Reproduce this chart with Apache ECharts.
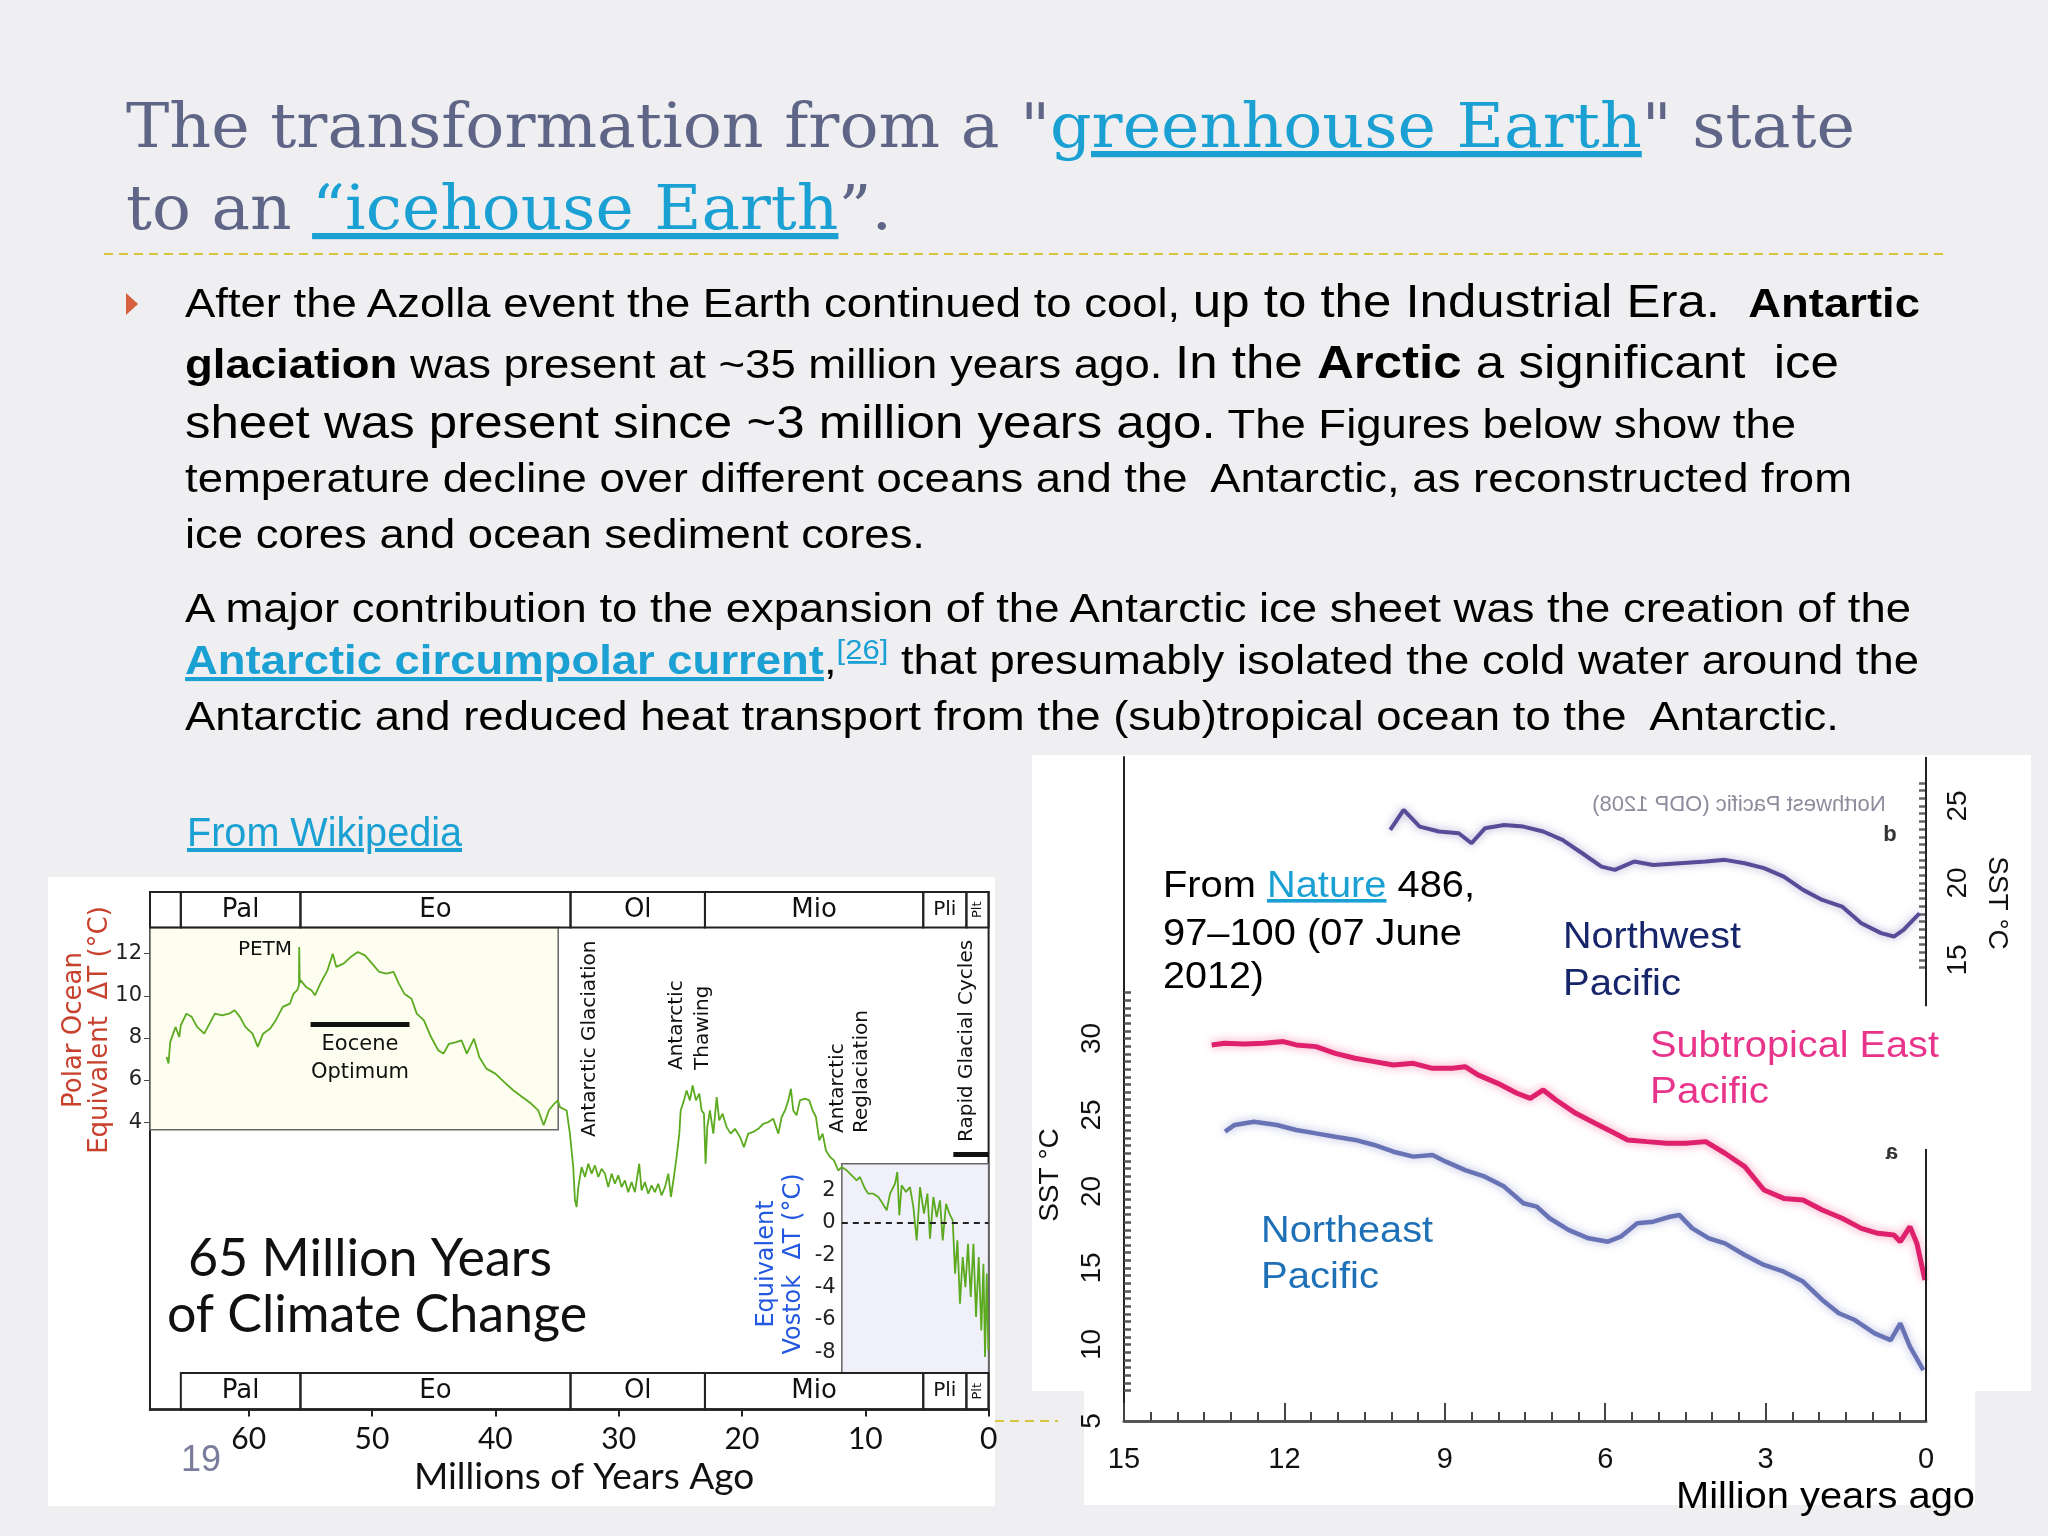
<!DOCTYPE html>
<html>
<head>
<meta charset="utf-8">
<title>Greenhouse to icehouse Earth</title>
<script src="https://cdn.jsdelivr.net/npm/echarts@6/dist/echarts.min.js"></script>
<style>
html, body { margin: 0; padding: 0; background: #efeff1; }
#chart { position: absolute; left: 0; top: 0; width: 2048px; height: 1536px; }
#slide { position: absolute; left: 0; top: 0; pointer-events: none; }
#slide text { font-family: 'Liberation Sans', Arial, sans-serif; white-space: pre; fill: #000; }
#slide .title { font-family: 'DejaVu Serif', serif; font-size: 62px; fill: #5f6586; }
#slide .body { font-size: 41px; }
#slide .big { font-size: 46px; }
#slide .b { font-weight: bold; }
#slide .link { fill: #1ba0d3; text-decoration: underline; }
</style>
</head>
<body>
<div id="chart"></div>
<svg id="slide" width="2048" height="1536" xml:space="preserve">
  <line x1="104" y1="254" x2="1946" y2="254" stroke="#d8c73e" stroke-width="2" stroke-dasharray="9 6"/>
  <line x1="995" y1="1421" x2="1058" y2="1421" stroke="#d8c73e" stroke-width="2" stroke-dasharray="9 6"/>
  <text class="title" x="126" y="147" textLength="1729" lengthAdjust="spacingAndGlyphs">The transformation from a "<tspan class="link">greenhouse Earth</tspan>" state</text>
  <text class="title" x="126" y="229" textLength="766" lengthAdjust="spacingAndGlyphs">to an <tspan class="link">“icehouse Earth</tspan>”.</text>
  <polygon points="126,293 126,315 138,304" fill="#d65f3c"/>
  <text class="body" x="185" y="317" textLength="1735" lengthAdjust="spacingAndGlyphs">After the Azolla event the Earth continued to cool, <tspan class="big">up to the Industrial Era.  </tspan><tspan class="b">Antartic</tspan></text>
  <text class="body" x="185" y="378" textLength="1654" lengthAdjust="spacingAndGlyphs"><tspan class="b">glaciation</tspan> was present at ~35 million years ago. <tspan class="big">In the <tspan class="b">Arctic</tspan> a significant  ice</tspan></text>
  <text class="body" x="185" y="438" textLength="1611" lengthAdjust="spacingAndGlyphs"><tspan class="big">sheet was present since ~3 million years ago.</tspan> The Figures below show the</text>
  <text class="body" x="185" y="492" textLength="1667" lengthAdjust="spacingAndGlyphs">temperature decline over different oceans and the  Antarctic, as reconstructed from</text>
  <text class="body" x="185" y="548" textLength="740" lengthAdjust="spacingAndGlyphs">ice cores and ocean sediment cores.</text>
  <text class="body" x="185" y="622" textLength="1726" lengthAdjust="spacingAndGlyphs">A major contribution to the expansion of the Antarctic ice sheet was the creation of the</text>
  <text class="body" x="185" y="674" textLength="1734" lengthAdjust="spacingAndGlyphs"><tspan class="link b">Antarctic circumpolar current</tspan>,<tspan class="link" font-size="28" dy="-15">[26]</tspan><tspan dy="15"> that presumably isolated the cold water around the</tspan></text>
  <text class="body" x="185" y="730" textLength="1654" lengthAdjust="spacingAndGlyphs">Antarctic and reduced heat transport from the (sub)tropical ocean to the  Antarctic.</text>
  <text class="link" x="187" y="846" font-size="40" textLength="275" lengthAdjust="spacingAndGlyphs">From Wikipedia</text>
  <text x="181" y="1471" font-size="36" style="fill:#7a7e9c">19</text>
  <text x="1163" y="897" font-size="36" textLength="312" lengthAdjust="spacingAndGlyphs">From <tspan class="link">Nature</tspan> 486,</text>
  <text x="1163" y="945" font-size="36" textLength="299" lengthAdjust="spacingAndGlyphs">97–100 (07 June</text>
  <text x="1163" y="988" font-size="36" textLength="101" lengthAdjust="spacingAndGlyphs">2012)</text>
  <text x="1563" y="948" font-size="36" textLength="178" lengthAdjust="spacingAndGlyphs" style="fill:#17266b">Northwest</text>
  <text x="1563" y="995" font-size="36" textLength="118" lengthAdjust="spacingAndGlyphs" style="fill:#17266b">Pacific</text>
  <text x="1650" y="1057" font-size="36" textLength="289" lengthAdjust="spacingAndGlyphs" style="fill:#e8358b">Subtropical East</text>
  <text x="1650" y="1103" font-size="36" textLength="119" lengthAdjust="spacingAndGlyphs" style="fill:#e8358b">Pacific</text>
  <text x="1261" y="1242" font-size="36" textLength="172" lengthAdjust="spacingAndGlyphs" style="fill:#1e70b7">Northeast</text>
  <text x="1261" y="1288" font-size="36" textLength="118" lengthAdjust="spacingAndGlyphs" style="fill:#1e70b7">Pacific</text>
  <text x="1676" y="1508" font-size="36" textLength="299" lengthAdjust="spacingAndGlyphs">Million years ago</text>
</svg>
<script>
// 65 Myr climate record: age (Ma) and polar ocean equivalent dT (degC)
const climateAge = [66.65, 66.5, 66.36, 65.93, 65.63, 65.5, 65.05, 64.62, 64.18, 63.6,
  63.17, 62.74, 62.16, 61.58, 61.14, 60.71, 60.27, 59.69, 59.26, 58.83,
  58.25, 57.81, 57.23, 56.65, 56.36, 56.07, 55.92, 55.9, 55.86, 55.78,
  55.35, 54.91, 54.62, 54.19, 53.61, 53.18, 52.89, 52.31, 51.73, 51.15,
  50.57, 49.99, 49.41, 48.83, 48.25, 47.82, 47.38, 46.8, 46.37, 45.79,
  45.21, 44.63, 44.2, 43.76, 43.18, 42.74, 42.31, 41.73, 41.3, 40.72,
  40.0, 39.27, 38.55, 37.82, 37.1, 36.52, 36.08, 35.65, 35.21, 34.93,
  34.76, 34.22, 33.95, 33.68, 33.54, 33.41, 33.27, 33.0, 32.73, 32.46,
  32.19, 31.92, 31.65, 31.38, 31.11, 30.84, 30.57, 30.3, 30.03, 29.76,
  29.49, 29.22, 28.95, 28.68, 28.33, 28.14, 27.87, 27.6, 27.33, 27.06,
  26.79, 26.52, 26.24, 25.97, 25.76, 25.52, 25.3, 25.08, 24.97, 24.7,
  24.49, 24.22, 24.0, 23.73, 23.46, 23.27, 23.08, 22.95, 22.81, 22.6,
  22.32, 22.05, 21.84, 21.57, 21.24, 20.92, 20.57, 20.16, 19.84, 19.49,
  19.08, 18.67, 18.27, 17.86, 17.46, 17.05, 16.78, 16.51, 16.24, 16.03,
  15.84, 15.57, 15.3, 14.89, 14.54, 14.27, 14.0, 13.73, 13.46, 13.19,
  12.86, 12.54, 12.19,
  11.91, 11.51, 11.1, 10.7, 10.43, 10.02, 9.75, 9.35, 8.94, 8.67,
  8.26, 7.99, 7.59, 7.4, 7.24, 7.05, 6.7, 6.37, 6.1, 5.83,
  5.56, 5.24, 4.96, 4.75, 4.48, 4.21, 3.94, 3.72, 3.45, 3.18,
  2.91, 2.72, 2.53, 2.32, 2.1, 1.88, 1.67, 1.45, 1.23, 1.02,
  0.8, 0.59, 0.42, 0.29, 0.15, 0.02];
const climateTemp = [7.09, 6.78, 7.8, 8.52, 8.04, 8.6, 9.15, 9.0, 8.52, 8.2,
  8.68, 9.15, 9.07, 9.15, 9.31, 9.0, 8.52, 8.2, 7.57, 8.2,
  8.44, 8.83, 9.47, 9.63, 10.1, 10.26, 10.5, 12.32, 10.6, 10.73,
  10.42, 10.26, 10.02, 10.58, 11.21, 12.0, 11.37, 11.53, 11.84, 12.08,
  11.92, 11.53, 11.13, 11.05, 11.13, 10.58, 10.1, 9.86, 9.15, 8.83,
  8.04, 7.41, 7.25, 7.72, 7.8, 7.88, 7.25, 7.96, 7.09, 6.54,
  6.3, 5.9, 5.51, 5.19, 4.88, 4.56, 3.85, 4.56, 4.88, 5.03,
  4.71, 4.55, 3.45, 1.86, 0.28, -0.04, 0.91, 1.86, 1.39, 2.02,
  1.55, 1.94, 1.39, 1.78, 1.55, 0.91, 1.55, 1.07, 1.47, 0.91,
  1.23, 0.67, 1.15, 0.67, 2.02, 0.75, 1.15, 0.6, 0.99, 0.67,
  1.07, 0.52, 0.91, 1.55, 0.44, 1.39, 2.34, 3.45, 4.55, 5.03,
  5.5, 5.03, 5.74, 5.03, 5.35, 4.55, 4.4, 2.02, 3.76, 4.55,
  3.45, 5.19, 4.08, 4.4, 3.76, 3.45, 3.68, 3.29, 2.81, 3.45,
  3.53, 3.68, 3.92, 4.0, 4.16, 3.45, 4.24, 4.55, 5.03, 5.58,
  4.55, 4.32, 5.03, 5.11, 5.03, 4.55, 4.24, 3.13, 3.45, 2.65,
  2.34, 2.18, 1.7,
  1.86, 1.71, 1.47, 1.23, 1.39, 0.83, 0.6, 0.6, 0.44, 0.2,
  -0.19, 0.6, 1.07, 1.63, -0.43, 1.0, 0.68, 0.91, -0.04, -1.62,
  0.91, -0.35, 0.6, -1.54, 0.44, -0.51, 0.28, -1.62, 0.12, -0.35,
  -0.67, -3.2, -1.62, -4.63, -2.41, -3.84, -1.78, -4.31, -1.78, -5.26,
  -2.41, -5.9, -2.73, -7.16, -3.2, -6.85];

// geological epochs (Ma)
const epochNames = ['Pal', 'Eo', 'Ol', 'Mio', 'Pli', 'Plt'];
const epochStart = [65.5, 55.8, 33.9, 23.0, 5.3, 1.8];
const epochEnd = [55.8, 33.9, 23.0, 5.3, 1.8, 0];

const ageTicks = [60, 50, 40, 30, 20, 10, 0];
const polarTicks = [4, 6, 8, 10, 12];
const vostokTicks = [-8, -6, -4, -2, 0, 2];

// Nature 486 SST records: age (Ma), SST (degC)
const subtropicalAge = [13.36, 13.12, 12.75, 12.39, 12.02, 11.78, 11.41, 11.05, 10.68, 10.32,
  9.96, 9.59, 9.23, 8.86, 8.62, 8.38, 8.01, 7.65, 7.4, 7.16,
  6.92, 6.55, 6.19, 5.82, 5.58, 5.22, 4.85, 4.49, 4.12, 3.76,
  3.39, 3.03, 2.66, 2.3, 1.94, 1.57, 1.21, 0.9, 0.6, 0.48,
  0.3, 0.17, 0.02];
const subtropicalSst = [29.58, 29.69, 29.64, 29.69, 29.8, 29.58, 29.47, 29.03, 28.71, 28.49,
  28.27, 28.38, 28.05, 28.05, 28.16, 27.62, 27.07, 26.42, 26.09, 26.64,
  25.98, 25.11, 24.46, 23.81, 23.37, 23.26, 23.15, 23.15, 23.26, 22.5,
  21.63, 20.1, 19.55, 19.45, 18.79, 18.25, 17.59, 17.27, 17.16, 16.72,
  17.7, 16.61, 14.22];
const northeastAge = [13.11, 12.93, 12.57, 12.14, 11.78, 11.41, 11.05, 10.68, 10.32, 9.96,
  9.59, 9.23, 8.98, 8.62, 8.25, 7.89, 7.53, 7.28, 7.04, 6.68,
  6.31, 5.95, 5.71, 5.4, 5.1, 4.79, 4.61, 4.37, 4.06, 3.76,
  3.39, 3.03, 2.66, 2.3, 1.94, 1.63, 1.33, 0.96, 0.66, 0.48,
  0.3, 0.05];
const northeastSst = [23.91, 24.35, 24.56, 24.35, 24.02, 23.8, 23.58, 23.37, 23.04, 22.6,
  22.28, 22.39, 21.95, 21.4, 20.97, 20.32, 19.23, 19.01, 18.25, 17.48,
  16.94, 16.72, 17.05, 17.92, 18.03, 18.35, 18.46, 17.59, 16.94, 16.61,
  15.85, 15.2, 14.76, 14.11, 12.91, 12.04, 11.6, 10.73, 10.29, 11.38,
  9.86, 8.33];
const northwestAge = [10.02, 9.77, 9.47, 9.11, 8.74, 8.5, 8.25, 7.89, 7.53, 7.16,
  6.8, 6.43, 6.07, 5.82, 5.46, 5.1, 4.61, 4.12, 3.76, 3.39,
  3.03, 2.66, 2.3, 1.94, 1.57, 1.21, 0.84, 0.6, 0.42, 0.24,
  0.12];
const northwestSst = [23.45, 24.74, 23.66, 23.34, 23.23, 22.58, 23.55, 23.77, 23.66, 23.34,
  22.8, 21.93, 21.06, 20.85, 21.39, 21.17, 21.28, 21.39, 21.5, 21.28,
  20.96, 20.41, 19.55, 18.9, 18.47, 17.38, 16.74, 16.52, 16.95, 17.6,
  18.03];

const sstTicks = [5, 10, 15, 20, 25, 30];
const nwSstTicks = [15, 20, 25];

const zip = (xs, ys) => xs.map((x, i) => [x, ys[i]]);

// small tick marks along the SST axes
const sstMinorTicks = [];
for (let v = 7; v <= 33; v += 0.5) sstMinorTicks.push(v);
const nwMinorTicks = [];
for (let v = 14.5; v <= 26.5; v += 0.5) nwMinorTicks.push(v);

const chart = echarts.init(document.getElementById('chart'));

// epoch boxes above and below the 65 Myr plot
const eraBoxes = [];
epochNames.forEach(function(name, i) {
  const label = {
    show: true, position: 'inside', formatter: '{b}', color: '#111', fontFamily: 'DejaVu Sans',
    fontSize: name === 'Plt' ? 13 : (name === 'Pli' ? 20 : 26),
    rotate: name === 'Plt' ? 90 : 0
  };
  eraBoxes.push([{name: name, coord: [epochStart[i], 13.24], label: label}, {coord: [epochEnd[i], 14.93]}]);
  eraBoxes.push([{name: name, coord: [epochStart[i], -9.66], label: label}, {coord: [epochEnd[i], -7.92]}]);
});

const up = Math.PI / 2;
function txt(text, x, y, style, rotation, extra) {
  return Object.assign({
    type: 'text', x: x, y: y, rotation: rotation || 0, z: 20, silent: true,
    style: Object.assign({
      text: text, fill: '#111', fontFamily: 'DejaVu Sans', fontSize: 20,
      align: 'center', verticalAlign: 'middle'
    }, style)
  }, extra || {});
}

const plainAxis = {splitLine: {show: false}};

const option = {
  animation: false,
  backgroundColor: 'transparent',
  grid: [
    {left: 150, top: 892, width: 838.6, height: 517.6, show: true, borderColor: '#222', borderWidth: 2,
      backgroundColor: 'rgba(0,0,0,0)', outerBoundsMode: 'none'},
    {left: 1124, top: 757, width: 802, height: 664, show: false, outerBoundsMode: 'none'}
  ],
  xAxis: [
    Object.assign({
      gridIndex: 0, type: 'value', min: 0, max: 68, inverse: true,
      axisLine: {onZero: false, lineStyle: {color: '#222', width: 2.5}},
      axisTick: {customValues: ageTicks, length: 7, lineStyle: {color: '#222', width: 2}},
      axisLabel: {customValues: ageTicks, margin: 15, fontFamily: 'Lato', fontSize: 30, color: '#111'}
    }, plainAxis),
    Object.assign({
      gridIndex: 1, type: 'value', min: 0, max: 15, interval: 3, inverse: true,
      axisLine: {onZero: false, lineStyle: {color: '#555', width: 3}},
      axisTick: {inside: true, length: 18, lineStyle: {color: '#444', width: 2}},
      minorTick: {show: true, splitNumber: 6, length: 9, lineStyle: {color: '#444', width: 2}},
      axisLabel: {margin: 24, fontFamily: 'Liberation Sans', fontSize: 29, color: '#111'}
    }, plainAxis)
  ],
  yAxis: [
    Object.assign({
      gridIndex: 0, type: 'value', min: -9.66, max: 14.93, position: 'left',
      axisLine: {show: true, onZero: false, lineStyle: {color: '#222', width: 2}},
      axisTick: {customValues: polarTicks, length: 6, lineStyle: {color: '#444'}},
      axisLabel: {customValues: polarTicks, margin: 8, fontFamily: 'DejaVu Sans', fontSize: 21, color: '#222'}
    }, plainAxis),
    Object.assign({
      gridIndex: 0, type: 'value', min: -11.55, max: 20.48, position: 'right', offset: -146.9,
      axisLine: {show: false, onZero: false},
      axisTick: {customValues: vostokTicks, length: 5, lineStyle: {color: '#444'}},
      axisLabel: {customValues: vostokTicks, inside: true, margin: 6, fontFamily: 'DejaVu Sans', fontSize: 21, color: '#222'}
    }, plainAxis),
    Object.assign({
      gridIndex: 1, type: 'value', min: 5, max: 48.4, position: 'left',
      axisLine: {show: true, onZero: false, lineStyle: {color: '#222', width: 2}},
      axisTick: {customValues: sstMinorTicks, inside: true, length: 7, lineStyle: {color: '#555', width: 2.5}},
      axisLabel: {customValues: sstTicks, rotate: 90, margin: 18, fontFamily: 'Liberation Sans', fontSize: 28, color: '#111'}
    }, plainAxis),
    Object.assign({
      gridIndex: 1, type: 'value', min: -14.94, max: 28.18, position: 'right',
      axisLine: {show: false, onZero: false},
      axisTick: {customValues: nwMinorTicks, inside: true, length: 7, lineStyle: {color: '#666', width: 2.5}},
      axisLabel: {customValues: nwSstTicks, rotate: 90, margin: 18, fontFamily: 'Liberation Sans', fontSize: 28, color: '#111'}
    }, plainAxis)
  ],
  series: [
    {
      name: '65 Myr climate', type: 'line', xAxisIndex: 0, yAxisIndex: 0,
      data: zip(climateAge, climateTemp), showSymbol: false, symbol: 'none', z: 3,
      lineStyle: {color: '#5caa20', width: 1.8},
      markArea: {
        silent: true,
        itemStyle: {color: 'rgba(0,0,0,0)', borderColor: '#222', borderWidth: 2},
        label: {show: false},
        data: [
          [{coord: [68, 3.64], itemStyle: {color: '#fdfdf0', borderColor: '#666', borderWidth: 1.5}}, {coord: [34.9, 13.24]}],
          [{coord: [11.9, -7.92], itemStyle: {color: '#f0f0fb', borderColor: '#666', borderWidth: 1.5}}, {coord: [0, 2.02]}],
          [{coord: [68, 13.24]}, {coord: [65.5, 14.93]}]
        ].concat(eraBoxes)
      },
      markLine: {
        silent: true, symbol: ['none', 'none'], label: {show: false},
        lineStyle: {color: '#111', width: 5, type: 'solid'},
        data: [
          [{coord: [54.98, 8.64]}, {coord: [46.96, 8.64]}],
          [{coord: [2.86, 2.45]}, {coord: [0, 2.45]}]
        ]
      }
    },
    {
      name: 'Vostok zero', type: 'line', xAxisIndex: 0, yAxisIndex: 1, data: [],
      markLine: {
        silent: true, symbol: ['none', 'none'], label: {show: false},
        lineStyle: {color: '#222', width: 1.8, type: [6, 5]},
        data: [[{coord: [11.9, 0]}, {coord: [0, 0]}]]
      }
    },
    {
      name: 'Subtropical East Pacific', type: 'line', xAxisIndex: 1, yAxisIndex: 2,
      data: zip(subtropicalAge, subtropicalSst), showSymbol: false, symbol: 'none', z: 4,
      lineStyle: {color: '#df216d', width: 5, shadowBlur: 10, shadowColor: 'rgba(235,60,120,0.55)'},
      markLine: {
        silent: true, symbol: ['none', 'none'], label: {show: false},
        lineStyle: {color: '#222', width: 2, type: 'solid'},
        data: [[{coord: [0, 22.78]}, {coord: [0, 5]}]]
      }
    },
    {
      name: 'Northeast Pacific', type: 'line', xAxisIndex: 1, yAxisIndex: 2,
      data: zip(northeastAge, northeastSst), showSymbol: false, symbol: 'none', z: 4,
      lineStyle: {color: '#6873b5', width: 4.5, shadowBlur: 8, shadowColor: 'rgba(100,110,190,0.5)'}
    },
    {
      name: 'Northwest Pacific', type: 'line', xAxisIndex: 1, yAxisIndex: 3,
      data: zip(northwestAge, northwestSst), showSymbol: false, symbol: 'none', z: 4,
      lineStyle: {color: '#574c98', width: 4, shadowBlur: 8, shadowColor: 'rgba(90,80,160,0.5)'},
      markLine: {
        silent: true, symbol: ['none', 'none'], label: {show: false},
        lineStyle: {color: '#222', width: 2, type: 'solid'},
        data: [[{coord: [0, 28.18]}, {coord: [0, 12.0]}]]
      }
    }
  ],
  graphic: [
    {type: 'rect', z: -10, silent: true, shape: {x: 48, y: 877, width: 947, height: 629}, style: {fill: '#fff'}},
    {type: 'rect', z: -10, silent: true, shape: {x: 1032, y: 755, width: 999, height: 636}, style: {fill: '#fff'}},
    {type: 'rect', z: -10, silent: true, shape: {x: 1084, y: 1391, width: 891, height: 114}, style: {fill: '#fff'}},
    txt('Polar Ocean', 74, 1030, {fill: '#c8412e', fontSize: 26}, up),
    txt('Equivalent  ΔT (°C)', 100, 1030, {fill: '#c8412e', fontSize: 26}, up),
    txt('PETM', 265, 950, {fontSize: 20}),
    txt('Eocene', 360, 1045, {fontSize: 21}),
    txt('Optimum', 360, 1073, {fontSize: 21}),
    txt('Antarctic Glaciation', 590, 1137, {fontSize: 20, align: 'left'}, up),
    txt('Antarctic', 677, 1070, {fontSize: 20, align: 'left'}, up),
    txt('Thawing', 703, 1070, {fontSize: 20, align: 'left'}, up),
    txt('Antarctic', 838, 1133, {fontSize: 20, align: 'left'}, up),
    txt('Reglaciation', 862, 1133, {fontSize: 20, align: 'left'}, up),
    txt('Rapid Glacial Cycles', 967, 1142, {fontSize: 20, align: 'left'}, up),
    txt('Equivalent', 767, 1264, {fill: '#2257e0', fontSize: 24}, up),
    txt('Vostok  ΔT (°C)', 794, 1264, {fill: '#2257e0', fontSize: 24}, up),
    txt('65 Million Years', 370, 1259, {fontFamily: 'Lato', fontSize: 52}),
    txt('of Climate Change', 377, 1315, {fontFamily: 'Lato', fontSize: 52}),
    txt('Millions of Years Ago', 584, 1477, {fontFamily: 'Lato', fontSize: 37}),
    txt('SST °C', 1050, 1175, {fontFamily: 'Liberation Sans', fontSize: 28}, up),
    txt('SST °C', 1997, 903, {fontFamily: 'Liberation Sans', fontSize: 28}, -up),
    txt('Northwest Pacific (ODP 1208)', 1739, 805, {fontFamily: 'Liberation Sans', fontSize: 22, fill: '#8c8c9c'}, 0, {scaleX: -1}),
    txt('b', 1890, 835, {fontFamily: 'Liberation Sans', fontSize: 22, fontWeight: 'bold', fill: '#333'}),
    txt('a', 1892, 1153, {fontFamily: 'Liberation Sans', fontSize: 22, fontWeight: 'bold', fill: '#333'}, 0, {scaleX: -1})
  ]
};

chart.setOption(option);
window.addEventListener('resize', function() {
  chart.resize();
});
</script>
</body>
</html>
